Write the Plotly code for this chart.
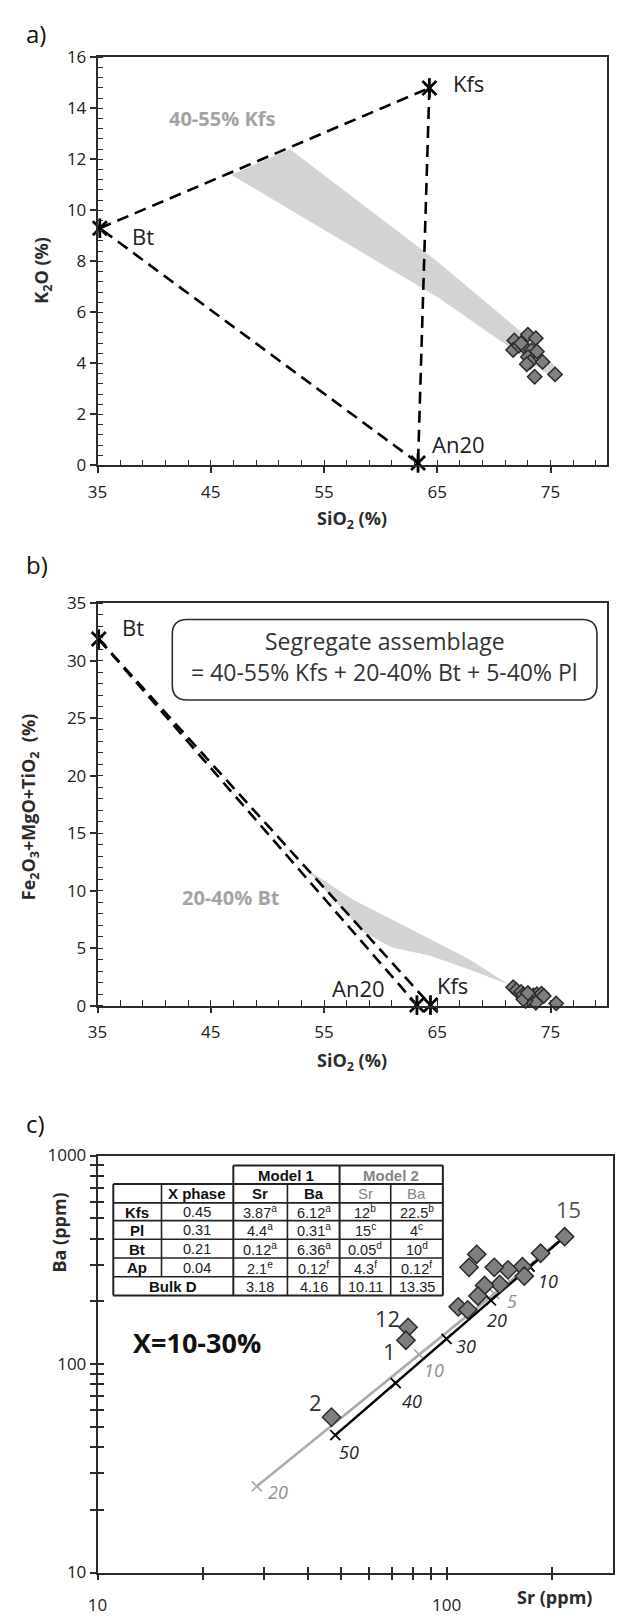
import math
import plotly.graph_objects as go

W, H = 617, 1620

# ---------------- panel a : K2O vs SiO2 ----------------
ends_a_name = ["Bt", "Kfs", "An20"]
ends_a_sio2 = [35.2, 64.3, 63.3]
ends_a_k2o = [9.3, 14.8, 0.1]

samples_a_sio2 = [71.8, 73.0, 73.7, 71.7, 72.2, 72.7, 73.3, 73.8, 73.0, 73.2, 72.9, 74.3, 75.4, 73.6, 72.4]
samples_a_k2o = [4.90, 5.13, 4.99, 4.53, 4.70, 4.64, 4.51, 4.47, 4.25, 4.06, 3.97, 4.06, 3.57, 3.48, 4.79]

field_a_sio2 = [46.8, 52.0, 65.0, 72.5, 75.6, 75.0, 71.5, 65.0]
field_a_k2o = [11.4, 12.4, 8.0, 5.2, 3.8, 3.5, 4.6, 6.6]

# ---------------- panel b : Fe2O3+MgO+TiO2 vs SiO2 ----------------
ends_b_name = ["Bt", "An20", "Kfs"]
ends_b_sio2 = [35.1, 63.2, 64.4]
ends_b_fmt = [31.9, 0.05, 0.05]

samples_b_sio2 = [71.7, 72.0, 72.4, 72.6, 72.9, 73.2, 73.5, 73.8, 74.2, 74.4, 73.7, 72.8, 72.6, 75.5, 73.0]
samples_b_fmt = [1.6, 1.35, 1.2, 0.95, 0.75, 0.65, 0.9, 1.0, 1.05, 0.85, 0.25, 0.4, 0.55, 0.2, 1.1]

field_b_sio2 = [53.3, 57.6, 61.0, 64.3, 67.7, 71.4, 67.7, 64.3, 61.0, 58.5]
field_b_fmt = [12.0, 9.2, 7.5, 5.8, 4.1, 1.8, 3.2, 4.36, 5.07, 6.4]

# ---------------- panel c : Ba vs Sr ----------------
samples_c_sr = [218, 186, 165, 150, 137, 167, 142, 128.5, 123, 108, 115, 116, 122, 77.6, 76.5, 46.8]
samples_c_ba = [408, 340, 293, 283, 291, 264, 241, 238, 212, 188, 182, 291, 336, 150, 130, 55.6]
sample_ids = ["15", "12", "1", "2"]
sample_id_sr = [223, 67.6, 68.5, 42.2]
sample_id_ba = [556, 167, 116, 65.8]

model1_pct = [0, 10, 20, 30, 40, 50]
model1_sr = [218, 173, 134, 100, 71.5, 48]
model1_ba = [408, 293, 202, 132, 81, 45.6]

model2_pct = [0, 5, 10, 20]
model2_sr = [218, 137, 83.5, 28.6]
model2_ba = [408, 217, 111, 25.9]

# partition-coefficient table
phases = ["Kfs", "Pl", "Bt", "Ap"]
x_phase = [0.45, 0.31, 0.21, 0.04]
m1_sr_d = [3.87, 4.4, 0.12, 2.1]
m1_sr_ref = ["a", "a", "a", "e"]
m1_ba_d = [6.12, 0.31, 6.36, 0.12]
m1_ba_ref = ["a", "a", "a", "f"]
m2_sr_d = [12, 15, 0.05, 4.3]
m2_sr_ref = ["b", "c", "d", "f"]
m2_ba_d = [22.5, 4, 10, 0.12]
m2_ba_ref = ["b", "c", "d", "f"]
bulk_d = [3.18, 4.16, 10.11, 13.35]

# log-axis tick positions
sr_major = [10, 100]
sr_minor = [20, 30, 40, 50, 60, 70, 80, 90, 200]
ba_major = [10, 100, 1000]
ba_minor = [20, 30, 40, 50, 60, 70, 80, 90, 200, 300, 400, 500, 600, 700, 800, 900]

# ---------------- styling ----------------
FONT = "Open Sans"
TFONT = "Liberation Sans, Arial"
INK = "#2b2b2b"
DIAMOND_FILL = "#7f7f7f"
FIELD = "#d3d3d3"
DASH = "12px,7px"


def px(x):
    return x / W


def py(y):
    return 1 - y / H


fig = go.Figure()


def star(x, y, xa, ya):
    # six-armed end-member symbol: a cross plus a vertical bar
    for sym in ["x-thin-open", "line-ns-open"]:
        fig.add_trace(go.Scatter(x=x, y=y, mode="markers", cliponaxis=False,
                                 marker=dict(symbol=sym, size=14, color="black",
                                             line=dict(color="black", width=2.8)),
                                 xaxis=xa, yaxis=ya))


# ---- panel a traces ----
fig.add_trace(go.Scatter(x=field_a_sio2, y=field_a_k2o, fill="toself", fillcolor=FIELD,
                         line=dict(width=0), mode="lines", hoverinfo="skip",
                         xaxis="x", yaxis="y"))
for i, j in [(0, 1), (1, 2), (2, 0)]:
    fig.add_trace(go.Scatter(x=[ends_a_sio2[i], ends_a_sio2[j]], y=[ends_a_k2o[i], ends_a_k2o[j]],
                             mode="lines", line=dict(color="black", width=2.6, dash=DASH),
                             xaxis="x", yaxis="y"))
star(ends_a_sio2, ends_a_k2o, "x", "y")
fig.add_trace(go.Scatter(x=samples_a_sio2, y=samples_a_k2o, mode="markers",
                         marker=dict(symbol="diamond", size=11, color=DIAMOND_FILL,
                                     line=dict(color=INK, width=1.5)),
                         xaxis="x", yaxis="y"))

# ---- panel b traces ----
fig.add_trace(go.Scatter(x=field_b_sio2, y=field_b_fmt, fill="toself", fillcolor=FIELD,
                         line=dict(width=0), mode="lines", hoverinfo="skip",
                         xaxis="x2", yaxis="y2"))
for j in [1, 2]:
    fig.add_trace(go.Scatter(x=[ends_b_sio2[0], ends_b_sio2[j]], y=[ends_b_fmt[0], ends_b_fmt[j]],
                             mode="lines", line=dict(color="black", width=2.6, dash=DASH),
                             xaxis="x2", yaxis="y2"))
star(ends_b_sio2, ends_b_fmt, "x2", "y2")
fig.add_trace(go.Scatter(x=samples_b_sio2, y=samples_b_fmt, mode="markers", cliponaxis=False,
                         marker=dict(symbol="diamond", size=11, color=DIAMOND_FILL,
                                     line=dict(color=INK, width=1.5)),
                         xaxis="x2", yaxis="y2"))

# ---- panel c traces ----
GREY_LINE = "#ababab"
fig.add_trace(go.Scatter(x=model2_sr, y=model2_ba, mode="lines",
                         line=dict(color=GREY_LINE, width=2.6), xaxis="x3", yaxis="y3"))
fig.add_trace(go.Scatter(x=model2_sr[1:], y=model2_ba[1:], mode="markers",
                         marker=dict(symbol="x-thin-open", size=10, color=GREY_LINE,
                                     line=dict(color=GREY_LINE, width=1.8)),
                         xaxis="x3", yaxis="y3"))
fig.add_trace(go.Scatter(x=model1_sr, y=model1_ba, mode="lines",
                         line=dict(color="black", width=2.6), xaxis="x3", yaxis="y3"))
fig.add_trace(go.Scatter(x=model1_sr[1:], y=model1_ba[1:], mode="markers",
                         marker=dict(symbol="x-thin-open", size=10, color="black",
                                     line=dict(color="black", width=1.8)),
                         xaxis="x3", yaxis="y3"))
fig.add_trace(go.Scatter(x=samples_c_sr, y=samples_c_ba, mode="markers",
                         marker=dict(symbol="diamond", size=14, color=DIAMOND_FILL,
                                     line=dict(color=INK, width=1.5)),
                         xaxis="x3", yaxis="y3"))
# carriers for the inner tick overlays of panel c
fig.add_trace(go.Scatter(x=[100], y=[100], mode="markers", marker=dict(opacity=0),
                         hoverinfo="skip", xaxis="x4", yaxis="y3"))
fig.add_trace(go.Scatter(x=[100], y=[100], mode="markers", marker=dict(opacity=0),
                         hoverinfo="skip", xaxis="x3", yaxis="y4"))

# ---------------- axes ----------------
tickfont = dict(family=FONT, size=17, color="#222")
frame = dict(showline=True, linewidth=1.6, linecolor=INK, mirror=True, showgrid=False,
             zeroline=False, tickfont=tickfont, tickcolor=INK, tickwidth=1.5)

dom_ab_x = [px(89), px(607)]
dom_a_y = [py(460), py(46)]
dom_b_y = [py(1008), py(600)]
dom_c_x = [px(89), px(613)]
dom_c_y = [py(1583), py(1160)]

sio2_axis = dict(range=[35, 80], tickmode="linear", tick0=35, dtick=10, ticks="outside", ticklen=6,
                 ticklabelstandoff=4,
                 minor=dict(tick0=35, dtick=2, ticks="inside", ticklen=6, tickwidth=1.3, tickcolor=INK),
                 **frame)

X_LOG = [1, math.log10(300)]
Y_LOG = [1, 3]
log_minor = dict(ticks="outside", ticklen=6, tickwidth=1.5, tickcolor=INK)
inner = dict(showline=False, showgrid=False, zeroline=False, showticklabels=False, type="log",
             tickmode="array", ticks="inside", ticklen=6, tickwidth=1.5, tickcolor=INK)

fig.update_layout(
    width=W, height=H, margin=dict(l=0, r=0, t=0, b=0),
    paper_bgcolor="white", plot_bgcolor="white", showlegend=False,
    xaxis=dict(domain=dom_ab_x, anchor="y", **sio2_axis),
    yaxis=dict(domain=dom_a_y, anchor="x", range=[0, 16], tickmode="linear", tick0=0, dtick=2,
               ticks="outside", ticklen=6,
               minor=dict(tick0=0, dtick=0.4, ticks="inside", ticklen=6, tickwidth=1.3, tickcolor=INK),
               **frame),
    xaxis2=dict(domain=dom_ab_x, anchor="y2", **sio2_axis),
    yaxis2=dict(domain=dom_b_y, anchor="x2", range=[0, 35], tickmode="linear", tick0=0, dtick=5,
                ticks="outside", ticklen=6,
                minor=dict(tick0=0, dtick=1, ticks="inside", ticklen=6, tickwidth=1.3, tickcolor=INK),
                **frame),
    xaxis3=dict(domain=dom_c_x, anchor="y3", type="log", range=X_LOG,
                tickmode="array", tickvals=sr_major, ticktext=[str(v) for v in sr_major],
                ticks="outside", ticklen=6, ticklabelstandoff=10,
                minor=dict(tickmode="array", tickvals=sr_minor, **log_minor), **frame),
    yaxis3=dict(domain=dom_c_y, anchor="x3", type="log", range=Y_LOG,
                tickmode="array", tickvals=ba_major, ticktext=[str(v) for v in ba_major],
                ticks="outside", ticklen=6,
                minor=dict(tickmode="array", tickvals=ba_minor, **log_minor), **frame),
    xaxis4=dict(overlaying="x3", anchor="y3", range=X_LOG, tickvals=sr_major + sr_minor, **inner),
    yaxis4=dict(overlaying="y3", anchor="x3", range=Y_LOG, tickvals=ba_major + ba_minor, **inner),
)

ann = []


def note(text, x, y, size=16, color=INK, xanchor="center", yanchor="middle", ref=None,
         family=FONT, angle=0, xshift=0, yshift=0):
    d = dict(text=text, showarrow=False, font=dict(family=family, size=size, color=color),
             xanchor=xanchor, yanchor=yanchor, textangle=angle, xshift=xshift, yshift=yshift)
    if ref is None:
        d.update(x=px(x), y=py(y), xref="paper", yref="paper")
    else:
        d.update(x=x, y=y, xref=ref[0], yref=ref[1])
    ann.append(d)


def note_log(text, sr, ba, **kw):
    # annotations on log axes are placed in log10 units
    note(text, math.log10(sr), math.log10(ba), ref=("x3", "y3"), **kw)


# panel letters
note("a)", 14, 22, size=24, color="#111", xanchor="left")
note("b)", 14, 560, size=24, color="#111", xanchor="left")
note("c)", 14, 1128, size=24, color="#111", xanchor="left")

# axis titles
note("<b>K<sub>2</sub>O (%)</b>", 33, 262, size=18, angle=-90)
note("<b>SiO<sub>2</sub> (%)</b>", 348, 515, size=18)
note("<b>Fe<sub>2</sub>O<sub>3</sub>+MgO+TiO<sub>2</sub>  (%)</b>", 20, 806, size=18, angle=-90)
note("<b>SiO<sub>2</sub> (%)</b>", 348, 1065, size=18)
note("<b>Ba (ppm)</b>", 50, 1238, size=18, angle=-90)
note("<b>Sr (ppm)</b>", 553, 1608, size=18)

# end-member labels
a_offsets = {"Bt": (30, -8), "Kfs": (22, 5), "An20": (12, 19)}
for n, x, y in zip(ends_a_name, ends_a_sio2, ends_a_k2o):
    dx, dy = a_offsets[n]
    note(n, x, y, size=22, color="#222", xanchor="left", ref=("x", "y"), xshift=dx, yshift=dy)
b_offsets = {"Bt": (21, 12, "left"), "An20": (-30, 17, "right"), "Kfs": (5, 20, "left")}
for n, x, y in zip(ends_b_name, ends_b_sio2, ends_b_fmt):
    dx, dy, anc = b_offsets[n]
    note(n, x, y, size=22, color="#222", xanchor=anc, ref=("x2", "y2"), xshift=dx, yshift=dy)

note("<b>40-55% Kfs</b>", 46.0, 13.6, size=20, color="#a3a3a3", ref=("x", "y"))
note("<b>20-40% Bt</b>", 46.8, 9.4, size=20, color="#a3a3a3", ref=("x2", "y2"))

# assemblage box in panel b
bx0, bx1, by0, by1, r = 41.6, 79.1, 26.6, 33.6, 1.3
box_path = (f"M {bx0 + r},{by1} L {bx1 - r},{by1} Q {bx1},{by1} {bx1},{by1 - r} "
            f"L {bx1},{by0 + r} Q {bx1},{by0} {bx1 - r},{by0} L {bx0 + r},{by0} "
            f"Q {bx0},{by0} {bx0},{by0 + r} L {bx0},{by1 - r} Q {bx0},{by1} {bx0 + r},{by1} Z")
shapes = [dict(type="path", path=box_path, xref="x2", yref="y2",
               line=dict(color=INK, width=1.6), fillcolor="rgba(0,0,0,0)")]
note("Segregate assemblage", (bx0 + bx1) / 2, 31.75, size=23, color="#333", ref=("x2", "y2"))
note("= 40-55% Kfs + 20-40% Bt + 5-40% Pl", (bx0 + bx1) / 2, 29.0, size=23, color="#333",
     ref=("x2", "y2"))

# panel c : sample numbers
for t, x, y in zip(sample_ids, sample_id_sr, sample_id_ba):
    note_log(t, x, y, size=22, color="#555" if t == "15" else "#333")

# fractionation step labels
m1_shift = {10: (18, -14), 20: (6, -20), 30: (19, -7), 40: (16, -18), 50: (14, -17)}
for p, x, y in zip(model1_pct[1:], model1_sr[1:], model1_ba[1:]):
    dx, dy = m1_shift[p]
    note_log(f"<i>{p}</i>", x, y, size=18, color="#222", xshift=dx, yshift=dy)
m2_shift = {5: (18, -7), 10: (15, -15), 20: (21, -6)}
for p, x, y in zip(model2_pct[1:], model2_sr[1:], model2_ba[1:]):
    dx, dy = m2_shift[p]
    note_log(f"<i>{p}</i>", x, y, size=18, color="#8c8c8c", xshift=dx, yshift=dy)

note("<b>X=10-30%</b>", 190, 1350, size=27, color="#111")

# ---- partition coefficient table (pixel grid) ----
cols = [105, 154, 227, 282, 335, 387, 440]
rows = [1170, 1189, 1208, 1226, 1245, 1264, 1283, 1302]


def hline(x0, x1, y, w=1.6):
    shapes.append(dict(type="line", xref="paper", yref="paper", x0=px(x0), x1=px(x1),
                       y0=py(y), y1=py(y), line=dict(color="#222", width=w)))


def vline(x, y0, y1, w=1.6):
    shapes.append(dict(type="line", xref="paper", yref="paper", x0=px(x), x1=px(x),
                       y0=py(y0), y1=py(y1), line=dict(color="#222", width=w)))


hline(cols[2], cols[6], rows[0], 2)
for k in range(1, 8):
    hline(cols[0], cols[6], rows[k], 2 if k in (1, 7) else 1.6)
vline(cols[0], rows[1], rows[7], 2)
vline(cols[1], rows[1], rows[6])
vline(cols[2], rows[0], rows[7], 2)
vline(cols[3], rows[1], rows[7])
vline(cols[4], rows[0], rows[7], 2)
vline(cols[5], rows[1], rows[7])
vline(cols[6], rows[0], rows[7], 2)


def cell(text, c0, c1, r, size=14.5, color="#222"):
    note(text, (cols[c0] + cols[c1]) / 2, (rows[r] + rows[r + 1]) / 2 + 0.5, size=size,
         color=color, family=TFONT)


cell("<b>Model 1</b>", 2, 4, 0, size=15, color="#111")
cell("<b>Model 2</b>", 4, 6, 0, size=15, color="#858585")
cell("<b>X phase</b>", 1, 2, 1, size=15, color="#111")
cell("<b>Sr</b>", 2, 3, 1, size=15, color="#111")
cell("<b>Ba</b>", 3, 4, 1, size=15, color="#111")
cell("Sr", 4, 5, 1, size=15, color="#858585")
cell("Ba", 5, 6, 1, size=15, color="#858585")


def dval(v, ref):
    return f"{v}<sup>{ref}</sup>"


for i, ph in enumerate(phases):
    r = i + 2
    cell(f"<b>{ph}</b>", 0, 1, r, size=15, color="#111")
    cell(f"{x_phase[i]}", 1, 2, r)
    cell(dval(m1_sr_d[i], m1_sr_ref[i]), 2, 3, r)
    cell(dval(m1_ba_d[i], m1_ba_ref[i]), 3, 4, r)
    cell(dval(m2_sr_d[i], m2_sr_ref[i]), 4, 5, r)
    cell(dval(m2_ba_d[i], m2_ba_ref[i]), 5, 6, r)
cell("<b>Bulk D</b>", 0, 2, 6, size=15, color="#111")
for k, v in enumerate(bulk_d):
    cell(f"{v}", 2 + k, 3 + k, 6)

fig.update_layout(annotations=ann, shapes=shapes)
fig.write_html("out.html")
